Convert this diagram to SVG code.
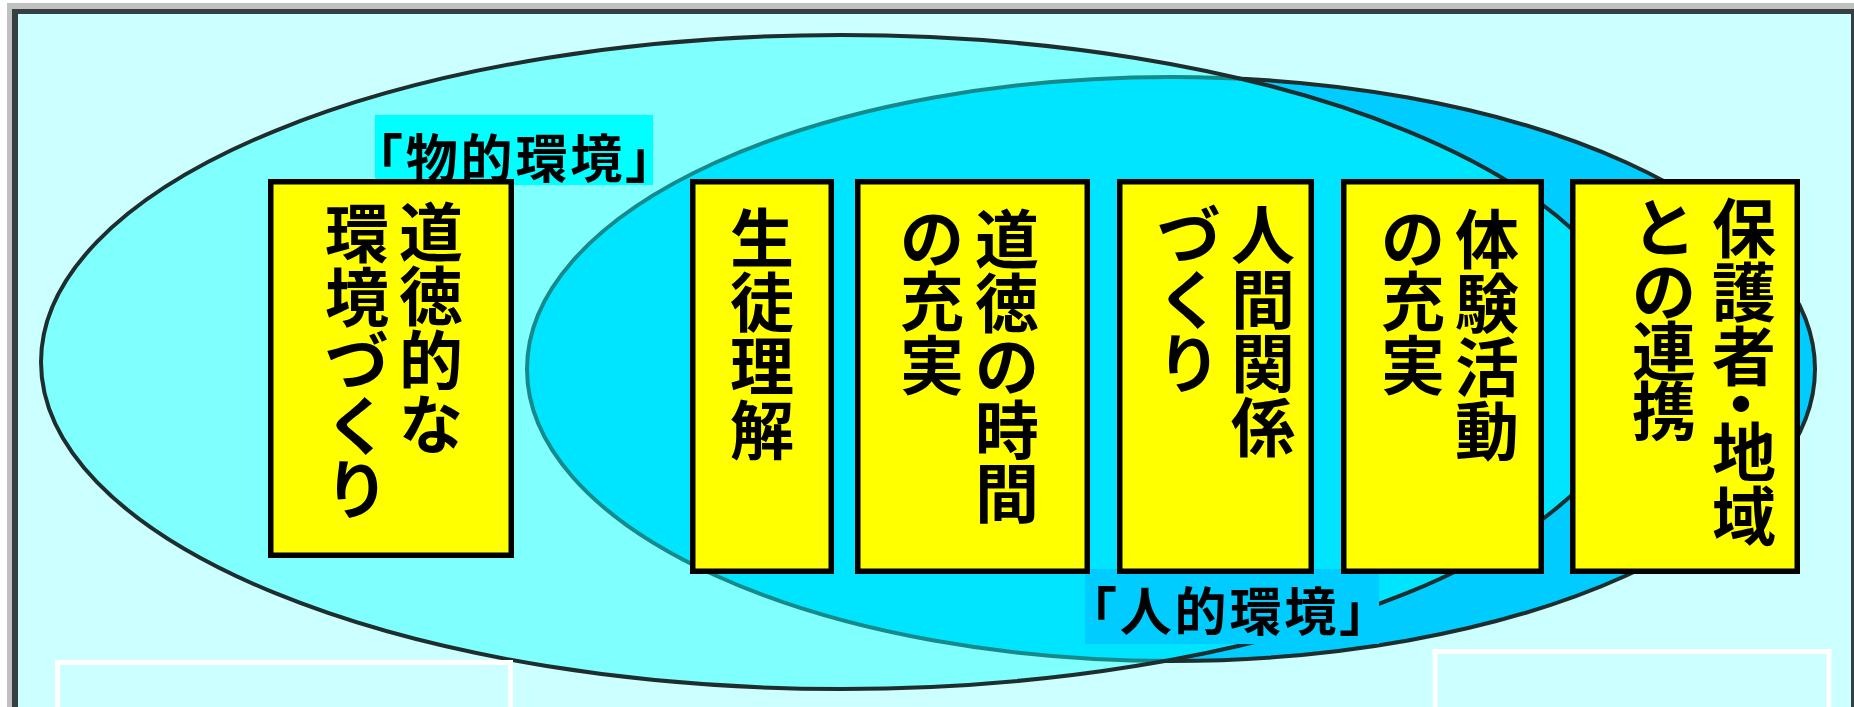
<svg xmlns="http://www.w3.org/2000/svg" width="1854" height="707" viewBox="0 0 1854 707">
<defs>
<style>
.box{fill:#ffff00;stroke:#000;stroke-width:5.5}
.t{font-family:"Noto Sans CJK JP","Noto Sans CJK SC",sans-serif;font-weight:700;fill:#000;dominant-baseline:central;text-anchor:middle}
.big{font-size:64px}
.small{font-size:52px}
.wbox{fill:none;stroke:#ffffff;stroke-width:5}
.dark{fill:none;stroke:#1e2e2e;stroke-width:4}
.teal{fill:none;stroke:#168a8a;stroke-width:4}
</style>
<clipPath id="inE1"><ellipse cx="841" cy="362" rx="800" ry="327"/></clipPath>
<mask id="outE1"><rect width="1854" height="707" fill="#fff"/><ellipse cx="841" cy="362" rx="800" ry="327" fill="#000"/></mask>
</defs>
<g id="frame">
<rect width="1854" height="707" fill="#ffffff"/>
<rect x="7" y="3" width="1847" height="704" fill="#c0c0c0"/>
<rect x="12" y="9" width="1842" height="698" fill="#364040"/>
<rect x="18" y="14" width="1833" height="693" fill="#ccffff"/>
</g>
<g id="environments">
<ellipse cx="841" cy="362" rx="800" ry="327" fill="#80ffff"/>
<ellipse cx="1171" cy="369" rx="644" ry="292" fill="#00ccff"/>
<ellipse cx="1171" cy="369" rx="644" ry="292" fill="#00e5ff" clip-path="url(#inE1)"/>
<ellipse cx="1171" cy="369" rx="644" ry="292" class="teal" clip-path="url(#inE1)"/>
<ellipse cx="1171" cy="369" rx="644" ry="292" class="dark" mask="url(#outE1)"/>
<ellipse cx="841" cy="362" rx="800" ry="327" class="dark"/>
</g>
<g id="label-physical">
<rect x="375" y="115" width="278" height="70" fill="#00ffff"/>
<text class="t small" x="514" y="155" textLength="326" lengthAdjust="spacing">「物的環境」</text>
</g>
<g id="label-human">
<rect x="1085" y="569" width="294" height="75" fill="#00ccff"/>
<text class="t small" x="1228" y="608" textLength="326" lengthAdjust="spacing">「人的環境」</text>
</g>
<g id="node1">
<rect class="box" x="270.75" y="181.75" width="240.5" height="373.5"/>
<text class="t big" x="431 431 431 431 357 357 357 357 357" y="228 292 356 420 229 293 357 421 485">道徳的な環境づくり</text>
</g>
<g id="node2">
<rect class="box" x="692.75" y="181.75" width="138.5" height="389.5"/>
<text class="t big" x="762 762 762 762" y="234 298 362 426">生徒理解</text>
</g>
<g id="node3">
<rect class="box" x="857.75" y="181.75" width="229.5" height="389.5"/>
<text class="t big" x="1007 1007 1007 1007 1007 932 932 932" y="235 299 362 426 489 234 297 361">道徳の時間の充実</text>
</g>
<g id="node4">
<rect class="box" x="1119.75" y="181.75" width="191.5" height="389.5"/>
<text class="t big" x="1263 1263 1263 1263 1189 1189 1189" y="231 295 359 423 231 295 359">人間関係づくり</text>
</g>
<g id="node5">
<rect class="box" x="1343.75" y="181.75" width="197.5" height="389.5"/>
<text class="t big" x="1487 1487 1487 1487 1413 1413 1413" y="235 299 363 427 234 297 361">体験活動の充実</text>
</g>
<g id="node6">
<rect class="box" x="1572.75" y="181.75" width="224.5" height="389.5"/>
<text class="t big" x="1744 1744 1744 1741 1744 1744 1664 1664 1664 1664" y="224 288 352 400 448 512 223 287 347 407">保護者・地域との連携</text>
</g>
<g id="connectors"></g>
<g id="lower-boxes">
<rect class="wbox" x="57.5" y="662.5" width="453" height="60"/>
<rect class="wbox" x="1435" y="651.5" width="394" height="70"/>
</g>
</svg>
